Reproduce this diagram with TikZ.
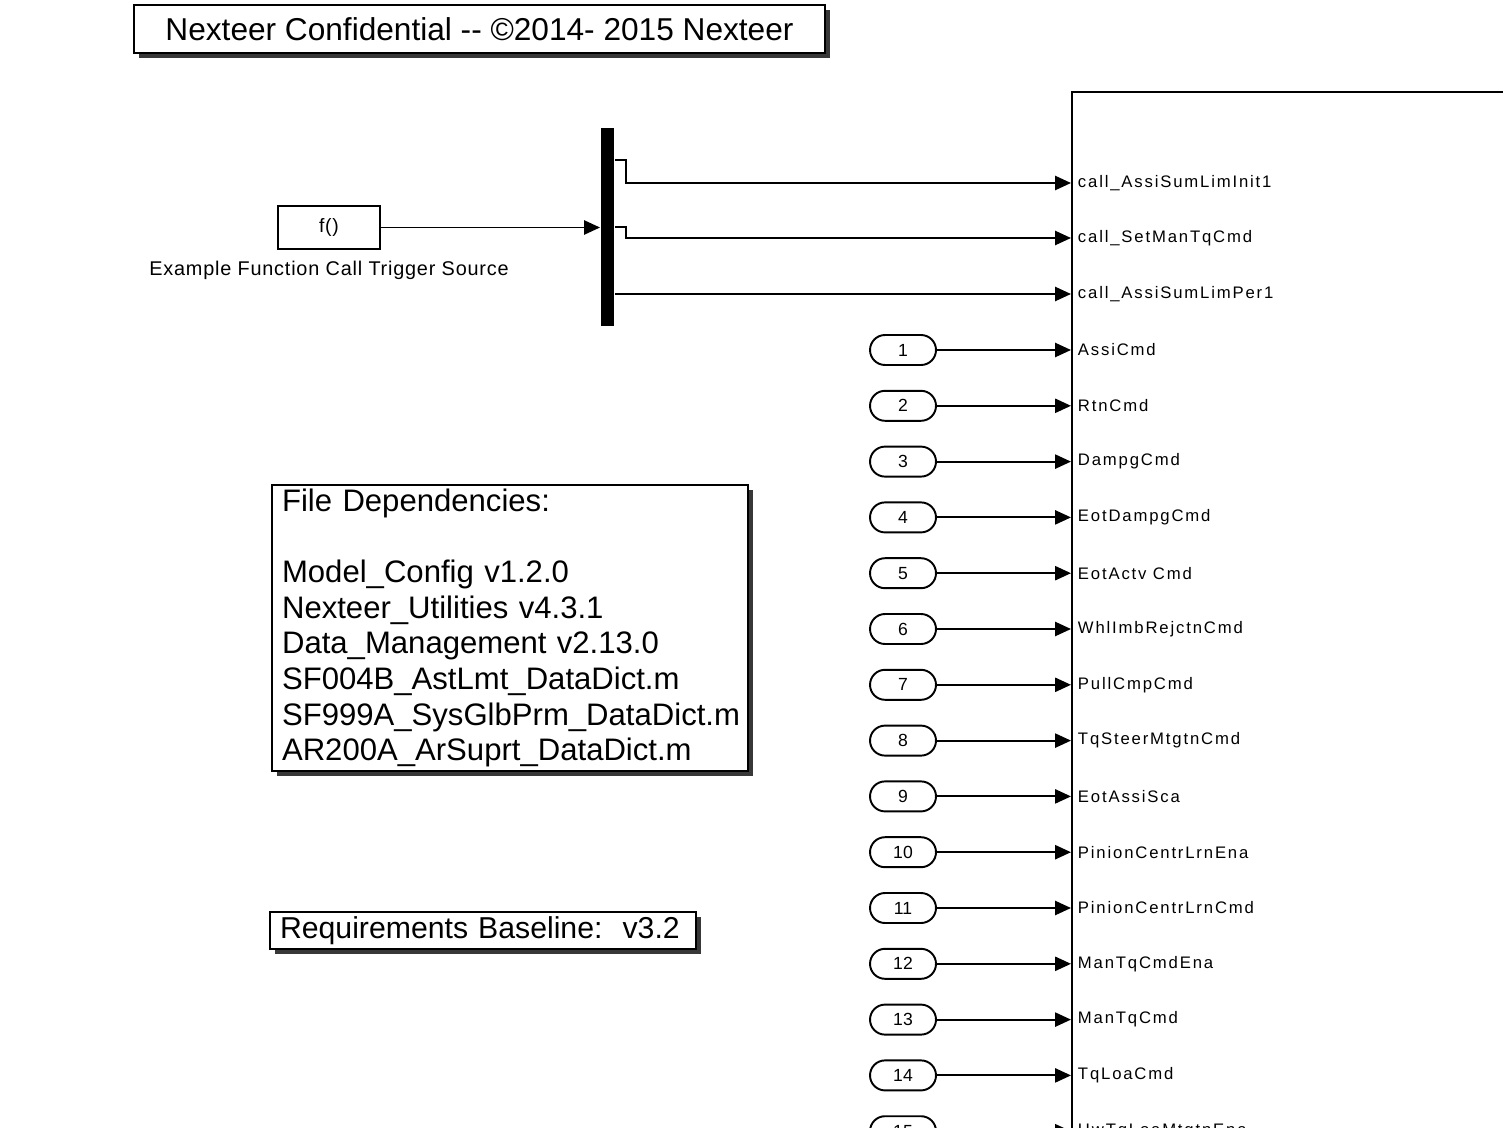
\documentclass[tikz,border=0pt]{standalone}
\usepackage{fontspec}
\setmainfont{Liberation Sans}
\newfontfamily\portfont[LetterSpace=11]{Liberation Sans}
\newfontfamily\srcfont[LetterSpace=4]{Liberation Sans}
\usetikzlibrary{arrows.meta,shadows,positioning}

\begin{document}
\begin{tikzpicture}[x=0.02cm,y=-0.02cm,>={Triangle[length=9pt,width=8pt]},line width=1.1pt,
  note box/.style={draw,fill=white,inner sep=0pt,
    drop shadow={shadow xshift=0.1cm,shadow yshift=-0.1cm,fill=black!78,opacity=1}},
  port node/.style={draw,rounded corners=0.3cm,minimum width=1.32cm,minimum height=0.6cm,
    inner sep=0pt,font=\fontsize{10}{12}\selectfont},
  port label/.style={anchor=west,inner sep=0pt,font=\portfont\fontsize{9.5}{11}\selectfont}]
  \useasboundingbox (0,0) rectangle (1503,1128);
  \clip (0,0) rectangle (1503,1128);

  % notes
  \node[note box,minimum width=13.82cm,minimum height=0.96cm,font=\fontsize{18}{20}\selectfont]
    (title) at (479.5,29) {Nexteer Confidential -{}- ©2014- 2015 Nexteer};
  \node[note box,minimum width=9.52cm,minimum height=5.72cm,text width=9.12cm,align=left,
    font=\fontsize{17.7}{20.3}\selectfont] (deps) at (510,628)
    {File Dependencies:\\[20.3pt]Model\_Config v1.2.0\\Nexteer\_Utilities v4.3.1\\
     Data\_Management v2.13.0\\SF004B\_AstLmt\_DataDict.m\\SF999A\_SysGlbPrm\_DataDict.m\\
     AR200A\_ArSuprt\_DataDict.m};
  \node[note box,minimum width=8.52cm,minimum height=0.74cm,text width=8.12cm,align=left,
    font=\fontsize{17.2}{19}\selectfont] (req) at (483,930.5) {Requirements Baseline:\ \ v3.2};

  % trigger source and demux
  \node[draw,minimum width=2.04cm,minimum height=0.86cm,inner sep=0pt,font=\srcfont\fontsize{11}{13}\selectfont]
    (fcn) at (329,227.5) {f()};
  \node[below=0.2cm of fcn,inner sep=0pt,font=\srcfont\fontsize{11.3}{13}\selectfont] (fcnlbl)
    {Example Function Call Trigger Source};
  \node[fill=black,minimum width=0.26cm,minimum height=3.96cm,inner sep=0pt] (demux) at (607.5,227) {};

  % subsystem
  \node[draw,anchor=north west,minimum width=9.6cm,minimum height=22cm,inner sep=0pt] (sub) at (1071,91) {};
  \coordinate (c1) at (sub.west |- 0,183);
  \coordinate (c2) at (sub.west |- 0,238);
  \coordinate (c3) at (sub.west |- 0,294);
  \node[port label] at (1077,183) {call\_AssiSumLimInit1};
  \node[port label] at (1077,238) {call\_SetManTqCmd};
  \node[port label] at (1077,294) {call\_AssiSumLimPer1};

  \draw[->] (fcn.east) -- (fcn.east -| demux.west);
  \draw[->] (demux.east |- 0,160) -- ++(11,0) |- (c1);
  \draw[->] (demux.east |- 0,227) -- ++(11,0) |- (c2);
  \draw[->] (demux.east |- 0,294) -- (c3);

  % inports
  \foreach \name [count=\i] in {AssiCmd,RtnCmd,DampgCmd,EotDampgCmd,EotActv Cmd,WhlImbRejctnCmd,
      PullCmpCmd,TqSteerMtgtnCmd,EotAssiSca,PinionCentrLrnEna,PinionCentrLrnCmd,ManTqCmdEna,
      ManTqCmd,TqLoaCmd,HwTqLoaMtgtnEna} {
    \node[port node] (in\i) at (903,350+55.8*\i-55.8) {\i};
    \node[port label] at (1077,350+55.8*\i-55.8) {\name};
    \draw[->] (in\i.east) -- (in\i.east -| sub.west);
  }
\end{tikzpicture}
\end{document}
